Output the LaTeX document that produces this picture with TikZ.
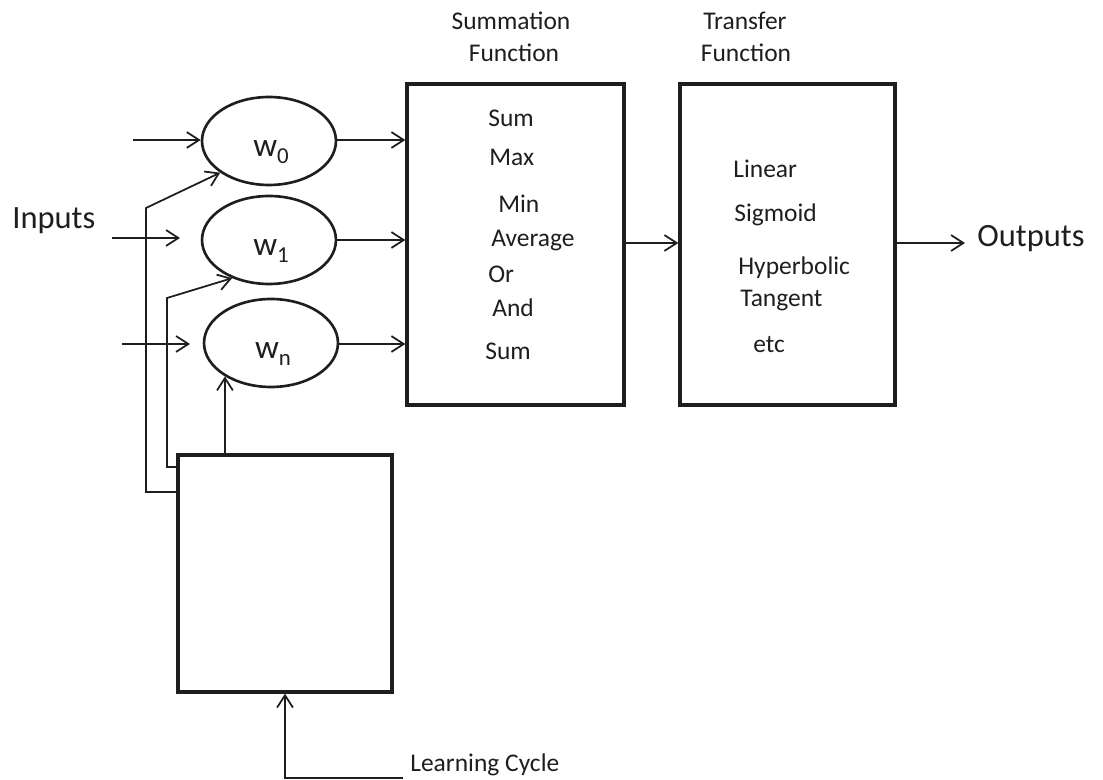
\documentclass[tikz,border=0pt]{standalone}
\usepackage{fontspec}
\setmainfont{Carlito}
\usetikzlibrary{arrows.meta,shapes.geometric,calc}
\definecolor{ink}{HTML}{1E1E1E}
\begin{document}
\begin{tikzpicture}[x=0.02cm,y=-0.02cm,
  txt/.style={anchor=base west,inner sep=0pt,text=ink,font=\fontsize{14.5}{16}\selectfont},
  ttl/.style={anchor=base,inner sep=0pt,text=ink,font=\fontsize{14.5}{16}\selectfont},
  big/.style={anchor=base west,inner sep=0pt,text=ink,font=\fontsize{18.5}{20}\selectfont},
  wnode/.style={ellipse,draw=ink,line width=1.5pt,inner sep=0pt,minimum width=2.68cm,minimum height=1.76cm},
  wtext/.style={inner sep=0pt,text=ink,font=\fontsize{19}{21}\selectfont},
  blockbox/.style={draw=ink,line width=1.9pt,inner sep=0pt},
  arr/.style={draw=ink,line width=1pt,-{Straight Barb[length=7pt,width=9pt,line width=1pt]}},
  ln/.style={draw=ink,line width=1pt}]
\useasboundingbox (0,0) rectangle (1103,780);
\newcommand{\wsub}[1]{w\raisebox{-4pt}{\fontsize{13}{14}\selectfont #1}}

% weight nodes
\node[wnode] (w0) at (269,141) {};
\node[wnode] (w1) at (269,240) {};
\node[wnode] (wn) at (271,343) {};
\node[wtext] at ($(w0.center)+(2,11)$) {\wsub{0}};
\node[wtext] at ($(w1.center)+(2,11)$) {\wsub{1}};
\node[wtext] at ($(wn.center)+(2,11)$) {\wsub{n}};

% function blocks
\node[blockbox,minimum width=4.34cm,minimum height=6.42cm] (sum) at (515.5,244.5) {};
\node[blockbox,minimum width=4.30cm,minimum height=6.42cm] (tf) at (787.5,244.5) {};
\node[blockbox,minimum width=4.28cm,minimum height=4.74cm] (learn) at (285,573.5) {};

% titles
\node[ttl] (st1) at (511,30) {Summation};
\node[ttl] (st2) at (514,62) {Function};
\node[ttl] (tt1) at (745,30) {Transfer};
\node[ttl] (tt2) at (746,62) {Function};

% summation choices
\node[txt] (s1) at (488,127) {Sum};
\node[txt] (s2) at (489,166) {Max};
\node[txt] (s3) at (498,213) {Min};
\node[txt] (s4) at (491,247) {Average};
\node[txt] (s5) at (488,283) {Or};
\node[txt] (s6) at (492,317) {And};
\node[txt] (s7) at (485,360) {Sum};

% transfer choices
\node[txt] (t1) at (733,178) {Linear};
\node[txt] (t2) at (734,222) {Sigmoid};
\node[txt] (t3) at (738,275) {Hyperbolic};
\node[txt] (t4) at (740,307) {Tangent};
\node[txt] (t5) at (753,353) {etc};

% inputs
\node[big] (inp) at (12,229) {Inputs};
\coordinate (i0) at (133,140);
\coordinate (i1a) at (112,238);
\coordinate (i1b) at (180,238);
\coordinate (ina) at (122,344);
\coordinate (inb) at (190,344);
\draw[arr] (i0) -- (i0 -| w0.west);
\draw[arr] (i1a) -- (i1b);
\draw[arr] (ina) -- (inb);

% weighted signals into the summation block
\draw[arr] (w0.east |- i0) -- (i0 -| sum.west);
\draw[arr] (w1.east) -- (w1.east -| sum.west);
\draw[arr] (wn.east |- ina) -- (ina -| sum.west);

% summation to transfer to output
\coordinate (outp) at (965,243);
\draw[arr] (sum.east |- outp) -- (outp -| tf.west);
\draw[arr] (tf.east |- outp) -- (outp);
\node[big] (outl) at (977,247) {Outputs};

% weight updates from the learning block
\coordinate (f1b) at (146,492);
\coordinate (f1t) at (146,208);
\coordinate (f2b) at (167,467);
\coordinate (f2t) at (167,298);
\draw[arr] (learn.west |- f1b) -- (f1b) -- (f1t) -- (w0.213);
\draw[arr] (learn.west |- f2b) -- (f2b) -- (f2t) -- (w1.226);
\draw[arr] (wn.216 |- learn.north) -- (wn.216);

% learning cycle feedback
\coordinate (lc1) at (403,778);
\coordinate (lc2) at (285,778);
\draw[arr] (lc1) -- (lc2) -- (lc2 |- learn.south);
\node[txt] (lcl) at (410,771) {Learning Cycle};
\end{tikzpicture}
\end{document}
